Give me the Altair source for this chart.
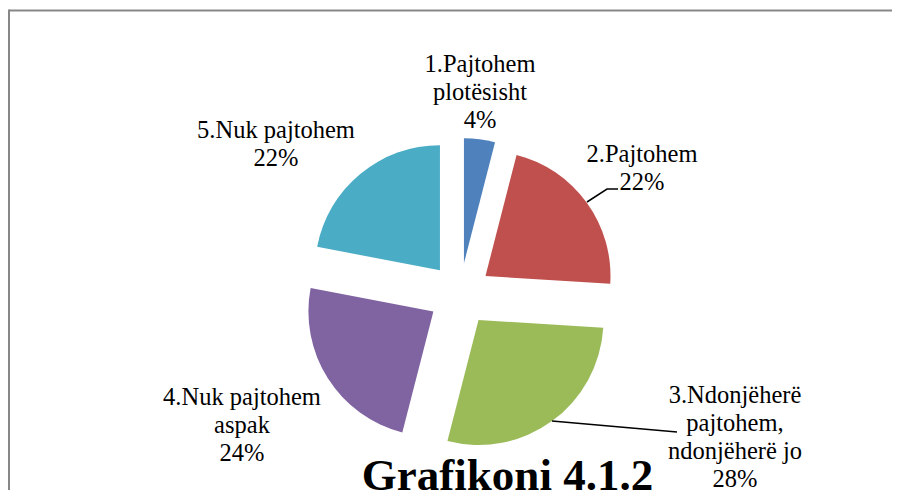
import altair as alt
import pandas as pd

# ---- data ----
categories = [
    "1.Pajtohem plotësisht",
    "2.Pajtohem",
    "3.Ndonjëherë pajtohem, ndonjëherë jo",
    "4.Nuk pajtohem aspak",
    "5.Nuk pajtohem",
]
values = [4, 22, 28, 24, 22]
label_text = [
    "1.Pajtohem\nplotësisht",
    "2.Pajtohem",
    "3.Ndonjëherë\npajtohem,\nndonjëherë jo",
    "4.Nuk pajtohem\naspak",
    "5.Nuk pajtohem",
]
colors = ["#4F81BD", "#C0504D", "#9BBB59", "#8064A2", "#4BACC6"]
title_text = "Grafikoni 4.1.2"

# ---- layout (view pixels) ----
W, H = 884, 482
CX, CY = 452, 286.5      # pie centre
R = 125                  # pie radius
EXPLODE = 31.5           # explosion distance
# label anchors (first-line baseline, centre aligned)
label_x = [472, 634, 727, 234, 268]
label_y = [64, 154, 395, 397, 130]
# leader lines
leader_id = ["a", "a", "a", "b", "b"]
leader_x = [579, 599, 610, 544, 669]
leader_y = [194, 181, 181, 413, 424]
leader_ord = [0, 1, 2, 0, 1]

df = pd.DataFrame({
    "cat": categories,
    "value": values,
    "order": list(range(len(values))),
    "lbl": [t + "\n" + str(v) + "%" for t, v in zip(label_text, values)],
    "lx": label_x,
    "ly": label_y,
})

base = alt.Chart(df)

pie = base.transform_joinaggregate(
    total="sum(value)"
).transform_window(
    cum="sum(value)", frame=[None, 0], sort=[alt.SortField("order")]
).transform_calculate(
    end="2*PI*datum.cum/datum.total",
    start="2*PI*(datum.cum-datum.value)/datum.total",
).transform_calculate(
    mid="(datum.start+datum.end)/2"
).transform_calculate(
    cx=f"{CX} + {EXPLODE}*sin(datum.mid)",
    cy=f"{CY} - {EXPLODE}*cos(datum.mid)",
).mark_arc(radius=R, stroke=None).encode(
    theta=alt.Theta("start:Q", scale=None),
    theta2="end:Q",
    x=alt.X("cx:Q", scale=None),
    y=alt.Y("cy:Q", scale=None),
    color=alt.Color("cat:N", scale=alt.Scale(domain=categories, range=colors), legend=None),
)

labels = base.mark_text(
    font="Liberation Serif", fontSize=24.5, lineBreak="\n", align="center",
    baseline="alphabetic", lineHeight=28, color="black",
).encode(
    x=alt.X("lx:Q", scale=None),
    y=alt.Y("ly:Q", scale=None),
    text="lbl:N",
)

ldf = pd.DataFrame({"id": leader_id, "x": leader_x, "y": leader_y, "o": leader_ord})
leaders = alt.Chart(ldf).mark_line(color="black", strokeWidth=1.5).encode(
    x=alt.X("x:Q", scale=None),
    y=alt.Y("y:Q", scale=None),
    detail="id:N",
    order="o:Q",
)

title = alt.Chart(pd.DataFrame({"t": [title_text]})).mark_text(
    font="Liberation Serif", fontSize=45, fontWeight="bold", align="center",
    baseline="alphabetic", color="black",
).encode(x=alt.value(499.5), y=alt.value(482), text="t:N")

frame_top = alt.Chart(pd.DataFrame({"a": [0]})).mark_rule(color="#878787", strokeWidth=2).encode(
    x=alt.value(1), x2=alt.value(W), y=alt.value(2.5)
)
frame_left = alt.Chart(pd.DataFrame({"a": [0]})).mark_rule(color="#878787", strokeWidth=2).encode(
    x=alt.value(1), y=alt.value(1.5), y2=alt.value(H)
)

chart = alt.layer(frame_top, frame_left, pie, leaders, labels, title).properties(
    width=W, height=H, padding=0, autosize=alt.AutoSizeParams(type="none"),
    background="white",
).configure_view(stroke=None)

chart.save("out.html", embed_options={"renderer": "svg", "actions": False})
